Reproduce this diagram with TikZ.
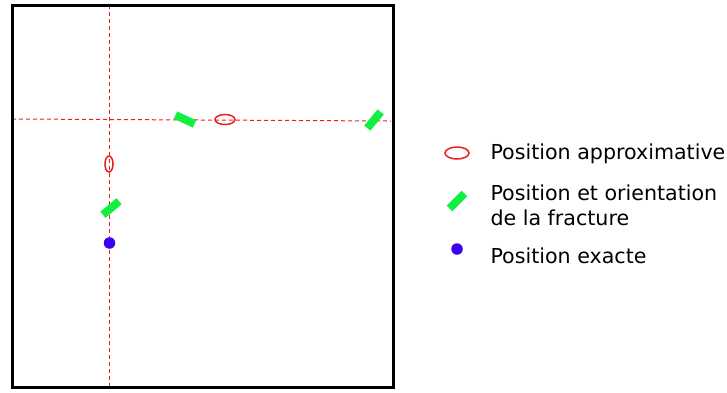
\documentclass[tikz,border=0pt]{standalone}
\usepackage{fontspec}
\setmainfont{DejaVu Sans}
\definecolor{fracgreen}{RGB}{16,240,64}
\definecolor{exactblue}{RGB}{60,0,240}
\definecolor{approxred}{RGB}{235,30,30}
\begin{document}
\begin{tikzpicture}[x=1pt, y=-1pt,
    approx/.style={draw=approxred, line width=1.5pt, fill=none},
    fracture/.style={fill=fracgreen, draw=none, rectangle, minimum width=21pt, minimum height=8pt, inner sep=0pt},
    exact/.style={fill=exactblue, draw=none, circle, minimum size=11.5pt, inner sep=0pt},
    guide/.style={approxred, line width=1pt, dash pattern=on 4pt off 3pt},
    legend/.style={anchor=west, font=\fontsize{20.6}{24.8}\selectfont, align=left}]
  \useasboundingbox (0,0) rectangle (727,392);

  % Guide lines
  \draw[guide] (109,5) -- (109,387);
  \draw[guide] (12,119) -- (391,121);

  % Frame
  \draw[line width=3pt] (12,5) rectangle (393,387);

  % Approximate positions
  \draw[approx] (225,119.5) ellipse (10pt and 5pt);
  \draw[approx] (109,164) ellipse (4pt and 8pt);

  % Fractures
  \node[fracture, rotate=-25] (f1) at (185,119.5) {};
  \node[fracture, rotate=50] (f2) at (374,120) {};
  \node[fracture, rotate=40] (f3) at (111,208) {};

  % Exact position
  \node[exact] (e1) at (109.5,243) {};

  % Legend
  \draw[approx] (457,153) ellipse (12pt and 6pt);
  \node[fracture, rotate=45] (lf) at (457,201) {};
  \node[exact] (le) at (457,249) {};
  \node[legend] (t1) at (487,153.5) {Position approximative};
  \node[legend] (t2) at (487,205) {Position et orientation\\de la fracture};
  \node[legend] (t3) at (487,255.5) {Position exacte};
\end{tikzpicture}
\end{document}
